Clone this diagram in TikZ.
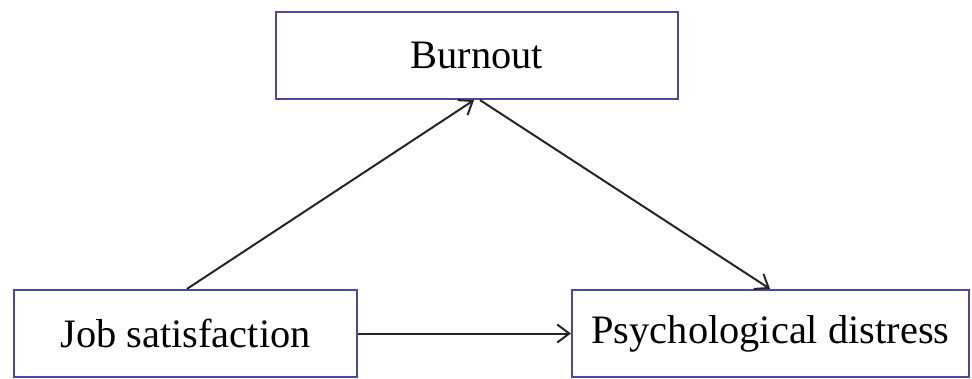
\documentclass[tikz,border=0pt]{standalone}
\usepackage{fontspec}
\setmainfont{Liberation Serif}
\usetikzlibrary{arrows.meta}
\definecolor{boxblue}{HTML}{4A4A9E}
\tikzset{
  varbox/.style={draw=boxblue, line width=1.1pt, fill=white, minimum height=43.5pt, inner sep=0pt, font=\fontsize{20.2}{23}\selectfont},
  conn/.style={draw=black!85, line width=1pt, -{Straight Barb[length=6pt,width=9pt,line width=1pt]}}
}
\begin{document}
\begin{tikzpicture}[x=0.5pt,y=-0.5pt]
\useasboundingbox (0,0) rectangle (972,379);
\node[varbox, minimum width=201pt] (burn) at (477,55.5) {Burnout};
\node[varbox, minimum width=171.5pt] (job) at (185.5,333.5) {Job satisfaction};
\node[varbox, minimum width=198.5pt] (psy) at (770.5,333.5) {Psychological distress};
\draw[conn] ([xshift=0.75pt]job.north) -- ([xshift=-1.5pt]burn.south);
\draw[conn] ([xshift=1.5pt]burn.south) -- ([xshift=-0.25pt]psy.north);
\draw[conn] (job.east) -- (psy.west);
\end{tikzpicture}
\end{document}
